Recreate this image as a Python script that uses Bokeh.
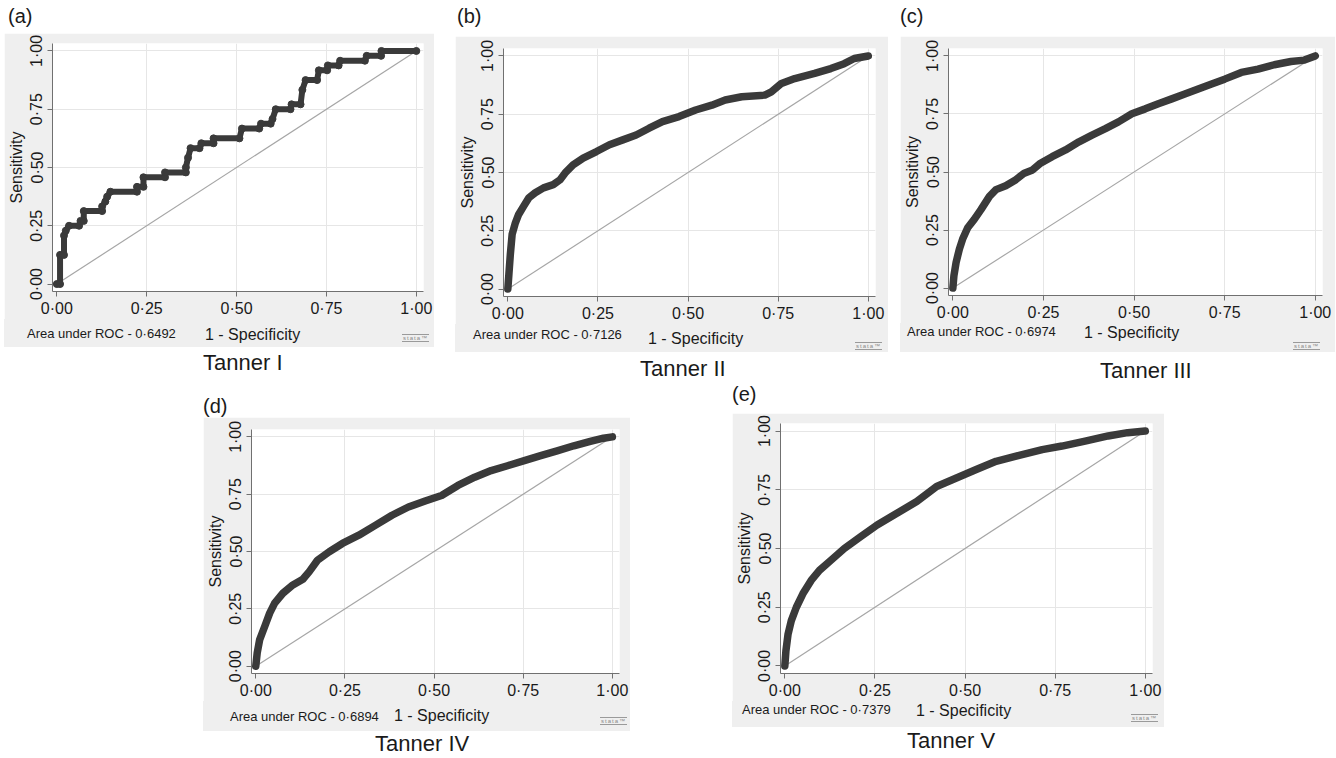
from bokeh.plotting import figure
from bokeh.layouts import column, row
from bokeh.models import Div, Spacer, FixedTicker, CustomJSTickFormatter, Range1d
from bokeh.embed import file_html
from bokeh.resources import INLINE

# ---------------- data ----------------
PANEL_LETTERS = ["(a)", "(b)", "(c)", "(d)", "(e)"]
PANEL_TITLES = ["Tanner I", "Tanner II", "Tanner III", "Tanner IV", "Tanner V"]
AUC_VALUES = ["0·6492", "0·7126", "0·6974", "0·6894", "0·7379"]
X_TITLE = "1 - Specificity"
Y_TITLE = "Sensitivity"
TICKS = [0, 0.25, 0.5, 0.75, 1.0]
GRID_TICKS = [0.25, 0.5, 0.75, 1.0]
REF_X = [0, 1]
REF_Y = [0, 1]

A_FPR = [0, 0.009, 0.009, 0.020, 0.020, 0.025, 0.034, 0.062, 0.066, 0.075, 0.075, 0.126, 0.126, 0.135,
         0.140, 0.149, 0.223, 0.223, 0.241, 0.241, 0.301, 0.301, 0.359, 0.359, 0.365, 0.372, 0.397,
         0.402, 0.436, 0.436, 0.508, 0.515, 0.563, 0.568, 0.595, 0.600, 0.609, 0.650, 0.653, 0.678,
         0.683, 0.692, 0.724, 0.729, 0.752, 0.754, 0.784, 0.788, 0.857, 0.862, 0.902, 0.903, 1.0]
A_TPR = [0, 0, 0.125, 0.125, 0.208, 0.229, 0.250, 0.250, 0.271, 0.271, 0.313, 0.313, 0.333, 0.354,
         0.375, 0.396, 0.396, 0.417, 0.417, 0.458, 0.458, 0.479, 0.479, 0.500, 0.542, 0.583, 0.583,
         0.604, 0.604, 0.625, 0.625, 0.667, 0.667, 0.688, 0.688, 0.708, 0.750, 0.750, 0.771, 0.771,
         0.833, 0.875, 0.875, 0.917, 0.917, 0.938, 0.938, 0.958, 0.958, 0.979, 0.979, 1.0, 1.0]

B_FPR = [0, 0.003, 0.007, 0.012, 0.021, 0.030, 0.044, 0.058, 0.076, 0.099, 0.126, 0.145, 0.159, 0.181,
         0.209, 0.246, 0.282, 0.319, 0.356, 0.392, 0.429, 0.475, 0.521, 0.566, 0.603, 0.649, 0.713,
         0.731, 0.759, 0.796, 0.851, 0.896, 0.933, 0.961, 1.0]
B_TPR = [0, 0.064, 0.149, 0.235, 0.284, 0.320, 0.356, 0.391, 0.413, 0.434, 0.448, 0.469, 0.498, 0.533,
         0.562, 0.590, 0.619, 0.640, 0.661, 0.690, 0.718, 0.740, 0.768, 0.789, 0.811, 0.825, 0.832,
         0.846, 0.882, 0.903, 0.925, 0.946, 0.967, 0.989, 1.0]

C_FPR = [0, 0.003, 0.009, 0.018, 0.027, 0.041, 0.059, 0.078, 0.101, 0.119, 0.146, 0.174, 0.197, 0.220,
         0.242, 0.274, 0.311, 0.348, 0.384, 0.421, 0.457, 0.494, 0.531, 0.567, 0.604, 0.640, 0.677,
         0.714, 0.750, 0.796, 0.842, 0.887, 0.933, 0.970, 1.0]
C_TPR = [0, 0.054, 0.111, 0.168, 0.211, 0.260, 0.296, 0.339, 0.395, 0.424, 0.441, 0.467, 0.495, 0.509,
         0.538, 0.566, 0.595, 0.630, 0.659, 0.687, 0.716, 0.751, 0.772, 0.794, 0.815, 0.836, 0.858,
         0.879, 0.900, 0.929, 0.943, 0.962, 0.976, 0.982, 1.0]

D_FPR = [0, 0.004, 0.011, 0.025, 0.039, 0.053, 0.076, 0.104, 0.132, 0.150, 0.173, 0.206, 0.243, 0.289,
         0.335, 0.382, 0.428, 0.475, 0.521, 0.567, 0.614, 0.660, 0.706, 0.753, 0.799, 0.845, 0.892,
         0.938, 0.975, 1.0]
D_TPR = [0, 0.058, 0.116, 0.173, 0.231, 0.275, 0.318, 0.354, 0.379, 0.412, 0.462, 0.499, 0.535, 0.571,
         0.614, 0.658, 0.694, 0.720, 0.744, 0.788, 0.824, 0.853, 0.874, 0.896, 0.918, 0.939, 0.961,
         0.980, 0.994, 1.0]

E_FPR = [0, 0.003, 0.009, 0.018, 0.032, 0.050, 0.073, 0.096, 0.128, 0.165, 0.210, 0.256, 0.311, 0.366,
         0.421, 0.476, 0.531, 0.586, 0.650, 0.714, 0.769, 0.833, 0.897, 0.951, 1.0]
E_TPR = [0, 0.064, 0.136, 0.193, 0.250, 0.307, 0.364, 0.407, 0.450, 0.500, 0.550, 0.600, 0.650, 0.700,
         0.764, 0.800, 0.836, 0.871, 0.896, 0.921, 0.936, 0.957, 0.979, 0.993, 1.0]

# ---------------- style ----------------
FONT = "Liberation Sans"
FONT_CSS = "'Liberation Sans', Arial, sans-serif"
BG = "#efefef"
CURVE = "#3a3a3a"
TXT = "#1a1a1a"
X_START, X_END = -0.012, 1.02
Y_START, Y_END = -0.032, 1.032
BOTTOM = 28

fmt = CustomJSTickFormatter(code="return tick.toFixed(2).replace('.', '\u00b7');")


def make_fig(fpr, tpr, w, h, left, right, top, markers):
    p = figure(width=w, height=h, x_range=Range1d(X_START, X_END), y_range=Range1d(Y_START, Y_END),
               output_backend="svg", toolbar_location=None,
               min_border_left=left, min_border_right=right, min_border_top=top,
               min_border_bottom=BOTTOM, border_fill_color=BG, background_fill_color="white",
               outline_line_color=None)
    p.xgrid.ticker = FixedTicker(ticks=GRID_TICKS)
    p.ygrid.ticker = FixedTicker(ticks=GRID_TICKS)
    p.grid.grid_line_color = "#e6e6e6"
    p.grid.grid_line_width = 1
    for ax in (p.xaxis[0], p.yaxis[0]):
        ax.ticker = FixedTicker(ticks=TICKS)
        ax.formatter = fmt
        ax.minor_tick_line_color = None
        ax.major_tick_in = 0
        ax.major_tick_out = 5
        ax.axis_line_color = "#707070"
        ax.major_tick_line_color = "#707070"
        ax.major_label_text_font = FONT
        ax.major_label_text_font_size = "16px"
        ax.major_label_text_color = TXT
        ax.axis_label_text_font = FONT
        ax.axis_label_text_font_size = "16px"
        ax.axis_label_text_font_style = "normal"
        ax.axis_label_text_color = TXT
    p.yaxis.axis_label = Y_TITLE
    p.xaxis.major_label_standoff = 3
    p.yaxis.major_label_standoff = 2
    p.yaxis.axis_label_standoff = 1
    p.yaxis.major_label_orientation = "vertical"

    p.line(REF_X, REF_Y, line_color="#a6a6a6", line_width=1.2)
    if markers:
        p.line(fpr, tpr, line_color=CURVE, line_width=6, line_join="round", line_cap="round")
        p.scatter(fpr, tpr, size=7, color=CURVE)
    else:
        p.line(fpr, tpr, line_color=CURVE, line_width=7.5, line_join="round", line_cap="round")
    return p


def text_div(text, w, h, px, py, size):
    html = (f'<div style="font-family:{FONT_CSS};font-size:{size}px;color:{TXT};'
            f'padding-left:{px}px;padding-top:{py}px;line-height:{size + 1}px;white-space:nowrap">{text}</div>')
    return Div(text=html, width=w, height=h, margin=(0, 0, 0, 0))


def strip_div(auc, w, h, auc_pos, ttl_pos, logo_pos):
    html = (
        f'<div style="position:relative;width:{w}px;height:{h}px;background:{BG};'
        f'font-family:{FONT_CSS};color:{TXT};overflow:hidden">'
        f'<span style="position:absolute;left:{auc_pos[0]}px;top:{auc_pos[1]}px;font-size:13px;'
        f'line-height:14px;white-space:nowrap">Area under ROC - {auc}</span>'
        f'<span style="position:absolute;left:{ttl_pos[0]}px;top:{ttl_pos[1]}px;font-size:16px;'
        f'line-height:18px;white-space:nowrap">{X_TITLE}</span>'
        f'<span style="position:absolute;right:{logo_pos[0]}px;top:{logo_pos[1]}px;font-size:6px;'
        f'line-height:6px;letter-spacing:1px;color:#8a8a8a;border-top:1px solid #9a9a9a;'
        f'border-bottom:1px solid #9a9a9a;padding:0 1px;white-space:nowrap">stata\u2122</span>'
        f'</div>')
    return Div(text=html, width=w, height=h, margin=(0, 0, 0, 0))


def panel(i, fpr, tpr, w, top_h, fig_h, strip_h, cap_h, borders, markers,
          lab_pos, auc_pos, ttl_pos, logo_pos, cap_pos):
    left, right, top = borders
    fig = make_fig(fpr, tpr, w, fig_h, left, right, top, markers)
    return column(text_div(PANEL_LETTERS[i], w, top_h, lab_pos[0], lab_pos[1], 20),
                  fig,
                  strip_div(AUC_VALUES[i], w, strip_h, auc_pos, ttl_pos, logo_pos),
                  text_div(PANEL_TITLES[i], w, cap_h, cap_pos[0], cap_pos[1], 22),
                  spacing=0)


ca = panel(0, A_FPR, A_TPR, 430, 33, 286, 28, 33, (46, 11, 10), True,
           (4, 6), (23, 8), (201, 7), (5, 15), (199, 4))
cb = panel(1, B_FPR, B_TPR, 433, 36, 288, 28, 28, (45, 13, 12), False,
           (2, 6), (18, 4), (193, 6), (6, 18), (185, 5))
cc = panel(2, C_FPR, C_TPR, 435, 36, 287, 29, 28, (45, 13, 12), False,
           (0, 6), (7, 2), (184, 1), (15, 19), (200, 7))
cd = panel(3, D_FPR, D_TPR, 427, 37, 284, 30, 27, (46, 11, 12), False,
           (0, 16), (27, 9), (191, 6), (3, 16), (172, 1))
ce = panel(4, E_FPR, E_TPR, 432, 33, 288, 26, 31, (41, 12, 10), False,
           (0, 4), (10, 2), (184, 1), (6, 13), (175, 2))

row1 = row(Spacer(width=4, height=10), ca, Spacer(width=21, height=10), cb,
           Spacer(width=12, height=10), cc, spacing=0)
row2 = row(Spacer(width=203, height=10), cd, Spacer(width=102, height=10), ce, spacing=0)
layout = column(row1, row2, spacing=0)

open("out.html", "w").write(file_html(layout, INLINE))
